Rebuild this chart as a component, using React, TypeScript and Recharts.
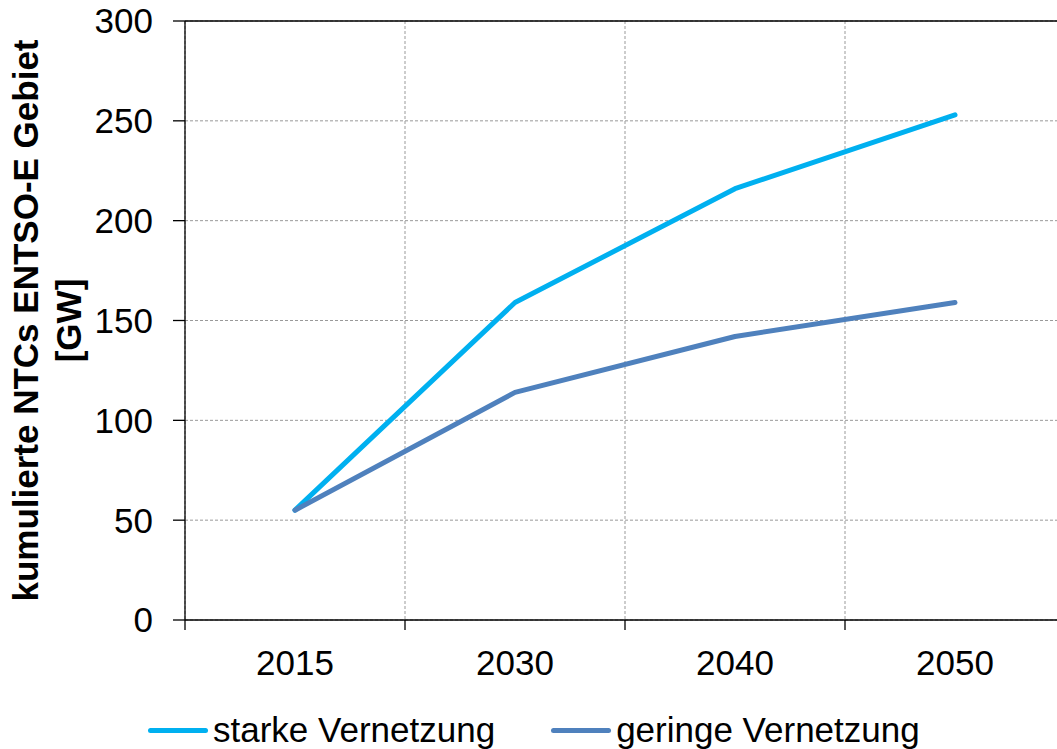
import React from "react";
import { LineChart, Line, XAxis, YAxis, CartesianGrid, ReferenceLine, Legend } from "recharts";

// Kumulierte NTCs im ENTSO-E Gebiet [GW]
const jahre = ["2015", "2030", "2040", "2050"];
const starkeVernetzung = [55, 159, 216, 253];
const geringeVernetzung = [55, 114, 142, 159];
const yTicks = [0, 50, 100, 150, 200, 250, 300];

const serien = [
  { key: "starke", name: "starke Vernetzung", farbe: "#00B0F0" },
  { key: "geringe", name: "geringe Vernetzung", farbe: "#4F81BD" },
];

const daten = jahre.map((jahr, i) => ({
  jahr,
  starke: starkeVernetzung[i],
  geringe: geringeVernetzung[i],
}));

const SCHRIFT = "'Liberation Sans', Arial, sans-serif";
const TICK_ABSTAND = 30;

const YTitel = ({ viewBox }: any) => {
  const cy = viewBox.y + viewBox.height / 2;
  return (
    <g fontFamily={SCHRIFT} fontWeight="bold" fontSize={35} fill="#000">
      <text transform={`translate(${viewBox.x + 38}, ${cy}) rotate(-90)`} textAnchor="middle">
        kumulierte NTCs ENTSO-E Gebiet
      </text>
      <text transform={`translate(${viewBox.x + 81}, ${cy}) rotate(-90)`} textAnchor="middle">
        [GW]
      </text>
    </g>
  );
};

// Jahreszahl mittig, Teilstrich an der Grenze zwischen den Kategorien
const JahrTick = ({ x, y, payload, width, index }: any) => {
  const band = width / jahre.length;
  const achseY = y - TICK_ABSTAND;
  const grenzen = [x - band / 2];
  if (index === jahre.length - 1) grenzen.push(x + band / 2);
  return (
    <g>
      {grenzen.map((gx) => (
        <line key={gx} x1={gx} x2={gx} y1={achseY} y2={achseY + 10} stroke="#000" strokeWidth={1.3} />
      ))}
      <text x={x} y={y} dy="0.71em" textAnchor="middle" fontSize={35} fill="#000" fontFamily={SCHRIFT}>
        {payload.value}
      </text>
    </g>
  );
};

const LegendeInhalt = () => (
  <div
    style={{
      display: "flex",
      alignItems: "center",
      height: 40,
      lineHeight: "40px",
      paddingLeft: 148,
      fontSize: 35,
      fontFamily: SCHRIFT,
      color: "#000",
      position: "relative",
      top: 1,
    }}
  >
    {serien.map((s, i) => (
      <div key={s.key} style={{ display: "flex", alignItems: "center", marginLeft: i === 0 ? 0 : 56 }}>
        <span style={{ display: "inline-block", width: 60, height: 5, borderRadius: 3, background: s.farbe, marginRight: 5 }} />
        <span style={{ whiteSpace: "nowrap" }}>{s.name}</span>
      </div>
    ))}
  </div>
);

export default function App() {
  return (
    <div
      style={{
        position: "absolute",
        left: 0,
        top: 0,
        width: 1057,
        height: 749,
        overflow: "hidden",
        background: "#fff",
        fontFamily: SCHRIFT,
      }}
    >
      <LineChart width={1075} height={749} data={daten} margin={{ top: 21, right: 10, bottom: 0, left: 0 }}>
        <CartesianGrid
          stroke="#999"
          strokeDasharray="3 2"
          verticalCoordinatesGenerator={({ offset }: any) =>
            jahre.map((_, i) => offset.left + (i * offset.width) / jahre.length)
          }
        />
        <XAxis
          dataKey="jahr"
          scale="band"
          interval={0}
          tickLine={false}
          tickSize={0}
          tickMargin={TICK_ABSTAND}
          height={89}
          stroke="#000"
          strokeWidth={1.3}
          tick={JahrTick}
        />
        <YAxis
          domain={[0, 300]}
          ticks={yTicks}
          interval={0}
          width={185}
          tickSize={12}
          tickMargin={20}
          stroke="#000"
          strokeWidth={1.3}
          tick={{ fontSize: 35, fill: "#000" }}
          label={YTitel}
        />
        <ReferenceLine y={300} stroke="#000" strokeWidth={1.3} />
        {serien.map((s) => (
          <Line
            key={s.key}
            type="linear"
            dataKey={s.key}
            name={s.name}
            stroke={s.farbe}
            strokeWidth={5}
            strokeLinecap="round"
            strokeLinejoin="round"
            dot={false}
            activeDot={false}
            isAnimationActive={false}
          />
        ))}
        <Legend
          verticalAlign="bottom"
          content={LegendeInhalt}
          wrapperStyle={{ left: 0, bottom: 0, width: 1057, height: 40 }}
        />
      </LineChart>
    </div>
  );
}
